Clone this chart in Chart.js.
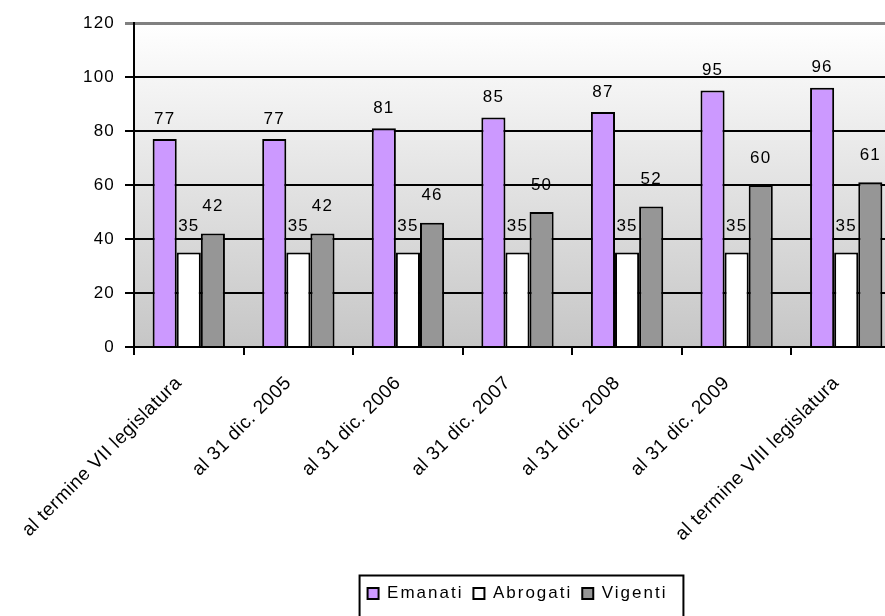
<!DOCTYPE html>
<html>
<head>
<meta charset="utf-8">
<script src="https://cdn.jsdelivr.net/npm/chart.js@4/dist/chart.umd.min.js"></script>
<style>
html,body{margin:0;padding:0;background:#fff;overflow:hidden;}
#wrap{width:905px;height:616px;position:relative;}
</style>
</head>
<body>
<div id="wrap"><canvas id="c"></canvas></div>
<script>
const categories = ["al termine VII legislatura","al 31 dic. 2005","al 31 dic. 2006","al 31 dic. 2007","al 31 dic. 2008","al 31 dic. 2009","al termine VIII legislatura"];
const emanati = [77,77,81,85,87,95,96];
const abrogati = [35,35,35,35,35,35,35];
const vigenti = [42,42,46,50,52,60,61];
const yTicks = [0,20,40,60,80,100,120];

const FONT = '"Liberation Sans", Arial, sans-serif';
const AXIS_SPACING = '1.2px';
const XLABEL_SPACING = '0.5px';
const LEGEND_SPACING = '2px';

function withSpacing(chart, obj, sp){
  const of = obj.fit.bind(obj), od = obj.draw.bind(obj);
  obj.fit = function(){ const c=chart.ctx; c.letterSpacing = sp; of(); c.letterSpacing = AXIS_SPACING; };
  obj.draw = function(a){ const c=chart.ctx; c.letterSpacing = sp; od(a); c.letterSpacing = AXIS_SPACING; };
  obj._patched = true;
}

const spacingPlugin = {
  id:'spacing',
  beforeUpdate(chart){
    chart.ctx.letterSpacing = AXIS_SPACING;
    const lg = chart.legend;
    if (lg && !lg._patched) withSpacing(chart, lg, LEGEND_SPACING);
  },
  beforeLayout(chart){
    chart.ctx.letterSpacing = AXIS_SPACING;
    const xs = chart.scales.x;
    if (xs && !xs._patched) withSpacing(chart, xs, XLABEL_SPACING);
  },
  beforeDraw(chart){ chart.ctx.letterSpacing = AXIS_SPACING; }
};

const bgPlugin = {
  id:'bg',
  beforeDraw(chart){
    const {ctx, chartArea:a} = chart;
    const g = ctx.createLinearGradient(0,a.top,0,a.bottom);
    g.addColorStop(0,'#ffffff');
    g.addColorStop(1,'#c6c6c6');
    ctx.save();
    ctx.fillStyle = g;
    ctx.fillRect(a.left,a.top,a.right-a.left,a.bottom-a.top);
    ctx.restore();
  }
};

const labelPlugin = {
  id:'vlabels',
  afterDatasetsDraw(chart, args, opts){
    const ctx = chart.ctx;
    ctx.save();
    ctx.letterSpacing = AXIS_SPACING;
    ctx.font = '17px ' + FONT;
    ctx.fillStyle = '#000';
    ctx.textAlign = 'center';
    ctx.textBaseline = 'middle';
    chart.data.datasets.forEach((ds, i) => {
      const meta = chart.getDatasetMeta(i);
      const lift = opts.lift[i];
      meta.data.forEach((el, j) => {
        ctx.fillText(String(ds.data[j]), el.x, el.y - lift);
      });
    });
    ctx.restore();
  }
};

const legendBoxPlugin = {
  id:'legendBox',
  afterDraw(chart){
    const lg = chart.legend;
    if(!lg || !lg.legendHitBoxes || !lg.legendHitBoxes.length) return;
    const hb = lg.legendHitBoxes;
    const first = hb[0], last = hb[hb.length-1];
    const ctx = chart.ctx;
    ctx.save();
    ctx.strokeStyle = '#000';
    ctx.lineWidth = 2;
    const left = first.left - 8;
    const right = last.left + last.width + 16;
    const top = first.top + first.height/2 - 18;
    ctx.strokeRect(left, top, right-left, 80);
    ctx.restore();
  }
};

new Chart(document.getElementById('c'), {
  type:'bar',
  data:{
    labels: categories,
    datasets:[
      {label:'Emanati', data: emanati, backgroundColor:'#cc99ff', borderColor:'#000', borderWidth:2},
      {label:'Abrogati', data: abrogati, backgroundColor:'#ffffff', borderColor:'#000', borderWidth:2},
      {label:'Vigenti', data: vigenti, backgroundColor:'#969696', borderColor:'#000', borderWidth:2}
    ]
  },
  options:{
    responsive:true,
    maintainAspectRatio:false,
    animation:false,
    layout:{padding:{top:23,right:4,left:0,bottom:4}},
    datasets:{bar:{categoryPercentage:0.66, barPercentage:1.0}},
    scales:{
      x:{
        grid:{display:true, drawOnChartArea:false, color:'#000', lineWidth:2, tickLength:8, offset:true},
        border:{display:true, color:'#000', width:2},
        ticks:{color:'#000', font:{family:FONT, size:19}, minRotation:45, maxRotation:45, autoSkip:false, padding:17, labelOffset:-10},
        afterFit(s){ s.height = 228; }
      },
      y:{
        min:0, max:120,
        afterBuildTicks(s){ s.ticks = yTicks.map(v=>({value:v})); },
        grid:{color:(c)=> c.tick && c.tick.value===120 ? '#808080' : '#000', lineWidth:(c)=> c.tick && c.tick.value===120 ? 3 : 2, tickLength:9, drawTicks:true},
        border:{display:true, color:'#000', width:2},
        ticks:{color:'#000', font:{family:FONT, size:17}, padding:10},
        afterFit(s){ s.width = 134; }
      }
    },
    plugins:{
      legend:{
        position:'bottom',
        fullSize:false,
        labels:{color:'#000', font:{family:FONT, size:17}, boxWidth:11, boxHeight:11, padding:10},
      },
      tooltip:{enabled:false},
      vlabels:{lift:[20,26,27]}
    }
  },
  plugins:[spacingPlugin, bgPlugin, labelPlugin, legendBoxPlugin]
});
</script>
</body>
</html>
